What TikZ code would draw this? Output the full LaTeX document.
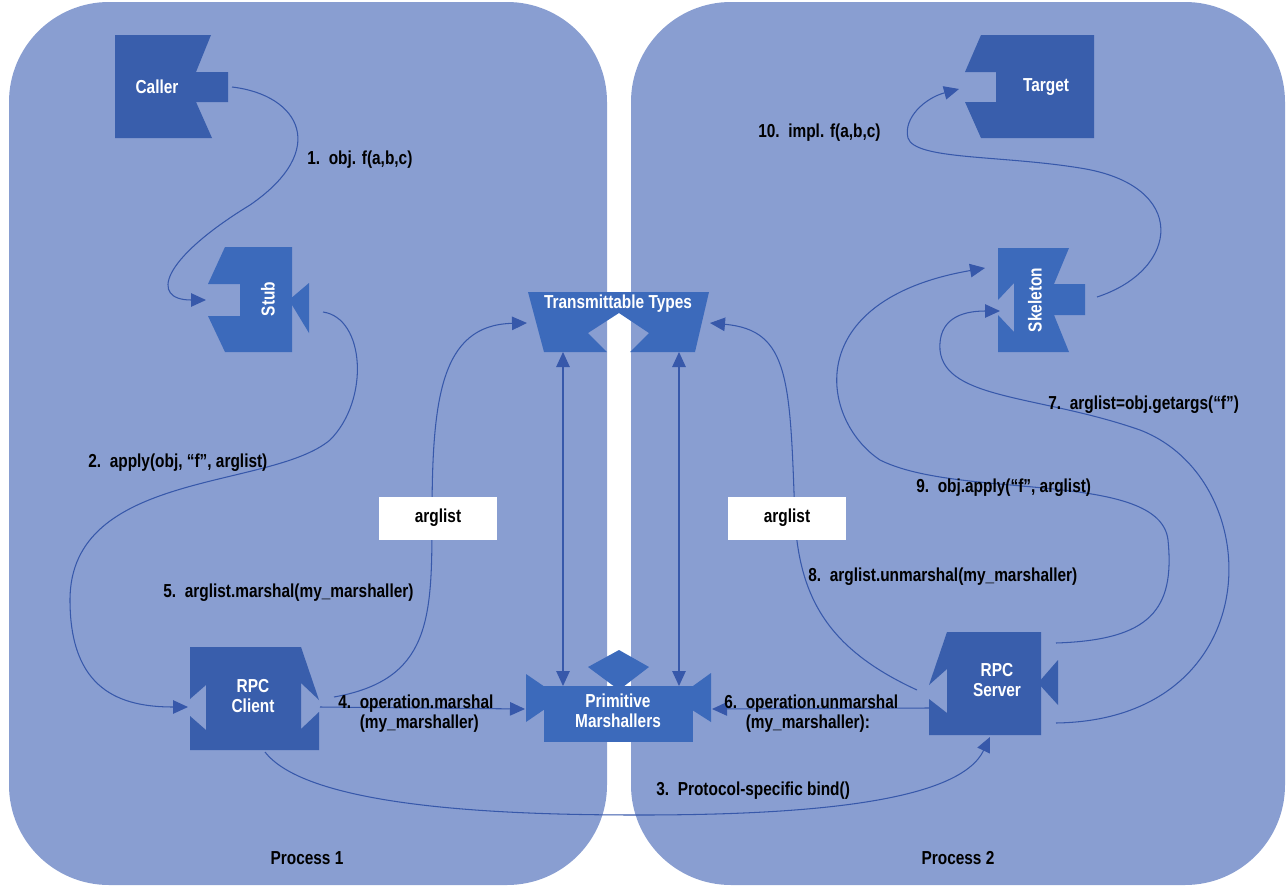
\documentclass[tikz,border=0pt]{standalone}
\usepackage{fontspec}
\setmainfont{Liberation Sans}[FakeStretch=0.82]
\usepackage{tikz}
\usetikzlibrary{arrows.meta,positioning}
\definecolor{processBlue}{RGB}{137,158,209}
\definecolor{shapeBlue}{RGB}{57,94,172}
\definecolor{portBlue}{RGB}{60,106,187}
\definecolor{wireBlue}{RGB}{55,88,170}

\begin{document}
\begin{tikzpicture}[x=0.02cm, y=-0.02cm,
    every node/.style={font=\fontsize{10.7}{11.5}\selectfont\bfseries},
    lbl/.style={anchor=west, align=left, inner sep=0pt},
    onshape/.style={text=white, align=center, inner sep=0pt},
    msgbox/.style={fill=white, minimum width=2.36cm, minimum height=0.86cm},
    wire/.style={draw=wireBlue, line width=0.6pt, -{Triangle[length=0.3cm,width=0.27cm]}},
    twoway/.style={draw=wireBlue, line width=0.6pt, {Triangle[length=0.3cm,width=0.27cm]}-{Triangle[length=0.3cm,width=0.27cm]}}]
            \useasboundingbox (0,0) rectangle (1286,886);
            \fill[processBlue, rounded corners=2cm] (9,2) rectangle (607,885);
            \fill[processBlue, rounded corners=2cm] (631,2) rectangle (1285,885);

            \fill[shapeBlue] (115,35) -- (211,35) -- (196,72) -- (228,72) -- (228,102) -- (196,102) -- (212,138) -- (115,138) -- cycle;
            \fill[shapeBlue] (1094,35) -- (981,35) -- (965,72) -- (996,72) -- (996,102) -- (965,102) -- (981,138) -- (1094,138) -- cycle;
            \fill[portBlue] (225,247) -- (292,247) -- (292,352) -- (225,352) -- (208,316) -- (240,316) -- (240,284) -- (208,284) -- cycle;
            \fill[portBlue] (309,283) -- (309,333) -- (289,300) -- cycle;
            \fill[portBlue] (998,248) -- (1069,248) -- (1054,284) -- (1085,284) -- (1085,315) -- (1054,315) -- (1069,352) -- (998,352) -- (998,315) -- (1014,332) -- (1014,283) -- (998,300) -- cycle;
            \fill[portBlue] (528,292) -- (709,292) -- (695,352) -- (630,352) -- (649,333) -- (619,313) -- (588,333) -- (607,352) -- (544,352) -- cycle;
            \fill[portBlue] (544,686) rectangle (693,742);
            \fill[portBlue] (588,667) -- (619,650) -- (649,667) -- (619,690) -- cycle;
            \fill[portBlue] (526,674) -- (526,722) -- (561,698) -- cycle;
            \fill[portBlue] (711,673) -- (711,722) -- (675,699) -- cycle;
            \fill[shapeBlue] (190,647) -- (301,647) -- (319,700) -- (301,683) -- (301,729) -- (319,712) -- (319,750) -- (190,750) -- (190,716) -- (206,730) -- (206,685) -- (190,699) -- cycle;
            \fill[shapeBlue] (947,632) -- (1041,632) -- (1041,735) -- (929,735) -- (929,699) -- (947,713) -- (947,669) -- (929,685) -- cycle;
            \fill[shapeBlue] (1058,660) -- (1058,705) -- (1038,683) -- cycle;

            \node[onshape] (caller) at (157,87) {Caller};
            \node[onshape] (target) at (1046,87) {Target};
            \node[onshape, rotate=90] (stub) at (268,299) {Stub};
            \node[onshape, rotate=90] (skeleton) at (1035,300) {Skeleton};
            \node[onshape] (types) at (618,304) {Transmittable Types};
            \node[onshape] (prims) at (618,711) {Primitive\\Marshallers};
            \node[onshape] (client) at (253,696) {RPC\\Client};
            \node[onshape] (server) at (997,680) {RPC\\Server};

            \coordinate (callerOut) at (232,87);
            \coordinate (stubIn) at (206,300);
            \coordinate (stubOut) at (323,312);
            \coordinate (clientIn) at (188,707);
            \coordinate (clientOut) at (320,707);
            \coordinate (clientUp) at (334,697);
            \coordinate (clientDown) at (265,752);
            \coordinate (primsIn) at (525,709);
            \coordinate (primsOut) at (712,709);
            \coordinate (typesIn) at (527,323);
            \coordinate (typesOut) at (710,323);
            \coordinate (serverIn) at (929,708);
            \coordinate (serverUp) at (917,690);
            \coordinate (serverDown) at (990,737);
            \coordinate (serverHigh) at (1056,643);
            \coordinate (serverLow) at (1056,723);
            \coordinate (skelTop) at (985,268);
            \coordinate (skelNotch) at (1000,311);
            \coordinate (skelOut) at (1097,297);
            \coordinate (targetIn) at (959,89);
            \coordinate (typesLeft) at (563,352);
            \coordinate (primsLeft) at (563,686);
            \coordinate (typesRight) at (679,352);
            \coordinate (primsRight) at (679,686);

            \draw[wire] (callerOut) .. controls (300,95) and (330,150) .. (250,205) .. controls (160,260) and (150,300) .. (stubIn);
            \draw[wire] (stubOut) .. controls (365,318) and (370,400) .. (330,440) .. controls (270,490) and (70,470) .. (70,600) .. controls (70,690) and (120,707) .. (clientIn);
            \draw[wire] (clientDown) .. controls (310,810) and (520,815) .. (640,815) .. controls (820,815) and (960,800) .. (serverDown);
            \draw[wire] (clientOut) -- (primsIn);
            \draw[wire] (clientUp) .. controls (430,680) and (432,620) .. (432,520) .. controls (432,400) and (440,325) .. (typesIn);
            \draw[wire] (serverIn) -- (primsOut);
            \draw[wire] (serverUp) .. controls (830,650) and (800,600) .. (795,520) .. controls (790,380) and (790,330) .. (typesOut);
            \draw[wire] (serverHigh) .. controls (1150,640) and (1175,610) .. (1168,540) .. controls (1160,470) and (960,500) .. (880,460) .. controls (820,420) and (800,300) .. (skelTop);
            \draw[wire] (serverLow) .. controls (1270,720) and (1270,480) .. (1140,430) .. controls (1040,395) and (945,400) .. (940,350) .. controls (938,320) and (960,311) .. (skelNotch);
            \draw[wire] (skelOut) .. controls (1180,270) and (1190,185) .. (1080,168) .. controls (1000,155) and (915,160) .. (908,138) .. controls (903,118) and (925,98) .. (targetIn);
            \draw[twoway] (typesLeft) -- (primsLeft);
            \draw[twoway] (typesRight) -- (primsRight);

            \node[msgbox] (argsL) at (438,518) {arglist};
            \node[msgbox] (argsR) at (787,518) {arglist};

            \node[lbl] (step1) at (307,160) {1.~~obj. f(a,b,c)};
            \node[lbl] (step10) at (758,133) {10.~~impl. f(a,b,c)};
            \node[lbl] (step2) at (88,463) {2.~~apply(obj, “f”, arglist)};
            \node[lbl] (step5) at (163,593) {5.~~arglist.marshal(my\_marshaller)};
            \node[lbl] (step4) at (338,714) {4.~~operation.marshal\\\phantom{4.~~}(my\_marshaller)};
            \node[lbl] (step6) at (724,714) {6.~~operation.unmarshal\\\phantom{6.~~}(my\_marshaller):};
            \node[lbl] (step3) at (656,791) {3.~~Protocol-specific bind()};
            \node[lbl] (step8) at (808,577) {8.~~arglist.unmarshal(my\_marshaller)};
            \node[lbl] (step9) at (916,488) {9.~~obj.apply(“f”, arglist)};
            \node[lbl] (step7) at (1048,405) {7.~~arglist=obj.getargs(“f”)};
            \node (proc1) at (307,858) {Process 1};
            \node (proc2) at (958,858) {Process 2};
        \end{tikzpicture}
\end{document}
